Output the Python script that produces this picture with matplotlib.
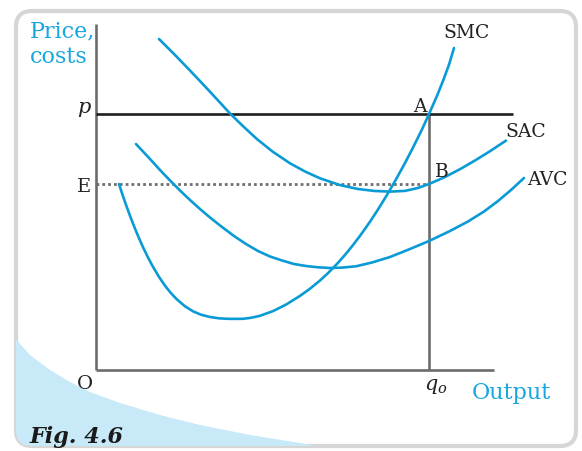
"""Short-run cost curves: SMC, SAC, AVC with price line p (Fig. 4.6)."""
import matplotlib
matplotlib.use("Agg")
import matplotlib.pyplot as plt
from matplotlib.patches import FancyBboxPatch, Polygon

plt.rcParams["font.family"] = ["DejaVu Serif"]
plt.rcParams["mathtext.fontset"] = "custom"
plt.rcParams["mathtext.it"] = "DejaVu Serif:italic"
plt.rcParams["mathtext.rm"] = "DejaVu Serif"

# ---- data (output, cost) ----
smc_q = [23, 27, 31, 35, 39, 43, 47, 52, 57, 63, 69, 75, 81, 89, 97, 105, 114,
         123, 131, 139, 147, 155, 164, 177, 190, 204, 214, 224, 232, 241, 249,
         257, 265, 274, 282, 291, 300, 309, 317, 326, 333, 341, 347, 353, 358]
smc_c = [186, 173.8, 162.4, 151.6, 141.4, 131.8, 122.8, 112.5, 103.2, 93.1,
         84.3, 76.8, 70.5, 63.7, 58.7, 55.3, 53.0, 51.7, 51.2, 51.1, 51.2, 52.2,
         54.2, 58.9, 65.4, 74.1, 81.3, 89.5, 96.9, 106.1, 115.1, 124.9, 135.5,
         148.3, 160.5, 175.1, 190.6, 207, 222.4, 240.6, 256, 274.1, 289.1,
         305.3, 322]

sac_q = [63, 79, 94, 109, 122, 134, 148, 161, 177, 194, 209, 224, 244, 262,
         279, 294, 309, 322, 333, 349, 364, 379, 394, 410]
sac_c = [331, 315, 299.5, 283.6, 269.6, 256.5, 242.9, 230.9, 218.1, 206.7,
         198.5, 191.7, 184.9, 181, 179, 178.4, 179.1, 182, 186, 193, 200.8,
         209.5, 218.8, 229.4]

avc_q = [40, 54, 64, 74, 84, 94, 104, 114, 126, 138, 150, 162, 174, 186, 198,
         210, 222, 234, 246, 260, 276, 294, 314, 333, 354, 372, 388, 402, 415,
         428]
avc_c = [226, 211, 200, 189.5, 179.5, 170, 161, 152.5, 143, 134, 126, 119,
         113.5, 109.5, 106, 104, 102.7, 102, 102.4, 103.7, 107.5, 113, 121,
         129, 139, 148.5, 158.5, 169, 180, 192]

price = 256      # p
cost_e = 186     # E, the level of SAC at q0 (point B)
q0 = 333
q_axis_end = 398
y_axis_end = 346
p_line_end = 417

BLUE = "#0a9bd6"
CYAN = "#17a6e0"
GREY = "#6c6c6e"

fig = plt.figure(figsize=(5.82, 4.52), dpi=100)
ax = fig.add_axes([0, 0, 1, 1])
ax.set_xlim(-96, 486)
ax.set_ylim(-81, 371)
ax.axis("off")

# card background with blue swoosh
card = FancyBboxPatch((-80, -76), 560, 435, boxstyle="round,pad=0,rounding_size=16",
                      fc="white", ec="#d6d6d6", lw=3, zorder=0)
ax.add_patch(card)
swoosh = Polygon([(-96, 33), (-82, 33), (-66, 15), (-46, 0), (-26, -12), (-6, -22),
                  (24, -33), (64, -45), (104, -55), (154, -65), (204, -73),
                  (244, -81), (-96, -81)],
                 closed=True, fc="#c8e9f8", ec="none", zorder=0.5)
ax.add_patch(swoosh)
swoosh.set_clip_path(card)

# axes and guide lines
ax.plot([0, 0], [0, y_axis_end], color=GREY, lw=1.9, solid_capstyle="butt")
ax.plot([0, q_axis_end], [0, 0], color=GREY, lw=1.9, solid_capstyle="butt")
ax.plot([q0, q0], [0, price], color=GREY, lw=1.9, solid_capstyle="butt")
ax.plot([0, p_line_end], [price, price], color="#1e1e1e", lw=1.9,
        solid_capstyle="butt")
ax.plot([0, q0], [cost_e, cost_e], color="#6f6f6f", lw=2.0,
        linestyle=(0, (1, 1.1)))

# cost curves
for q, c in [(smc_q, smc_c), (sac_q, sac_c), (avc_q, avc_c)]:
    ax.plot(q, c, color=BLUE, lw=1.9, solid_joinstyle="round",
            solid_capstyle="round", zorder=3)

# labels
ax.text(-66, 334, "Price,", color=CYAN, fontsize=16, va="baseline")
ax.text(-66, 308, "costs", color=CYAN, fontsize=16, va="baseline")
ax.text(376, -28, "Output", color=CYAN, fontsize=16, va="baseline")
ax.text(-6, 258, "p", fontsize=15, style="italic", ha="right", va="baseline",
        color="#222222")
ax.text(-5, 179, "E", fontsize=14, ha="right", va="baseline", color="#222222")
ax.text(-3, -18, "O", fontsize=14, ha="right", va="baseline", color="#222222")
ax.text(q0 - 5, -19, r"$q_o$", fontsize=15, ha="left", va="baseline",
        color="#222222")
ax.text(347, 333, "SMC", fontsize=13.5, va="baseline", color="#222222")
ax.text(317, 259, "A", fontsize=13.5, va="baseline", color="#222222")
ax.text(409, 234, "SAC", fontsize=13.5, va="baseline", color="#222222")
ax.text(339, 194, "B", fontsize=13.5, va="baseline", color="#222222")
ax.text(431, 186, "AVC", fontsize=13.5, va="baseline", color="#222222")
ax.text(-66, -72, "Fig. 4.6", fontsize=16, weight="bold", style="italic",
        va="baseline", color="#1a1a1a")

fig.savefig("out.png", dpi=100)
plt.close(fig)
